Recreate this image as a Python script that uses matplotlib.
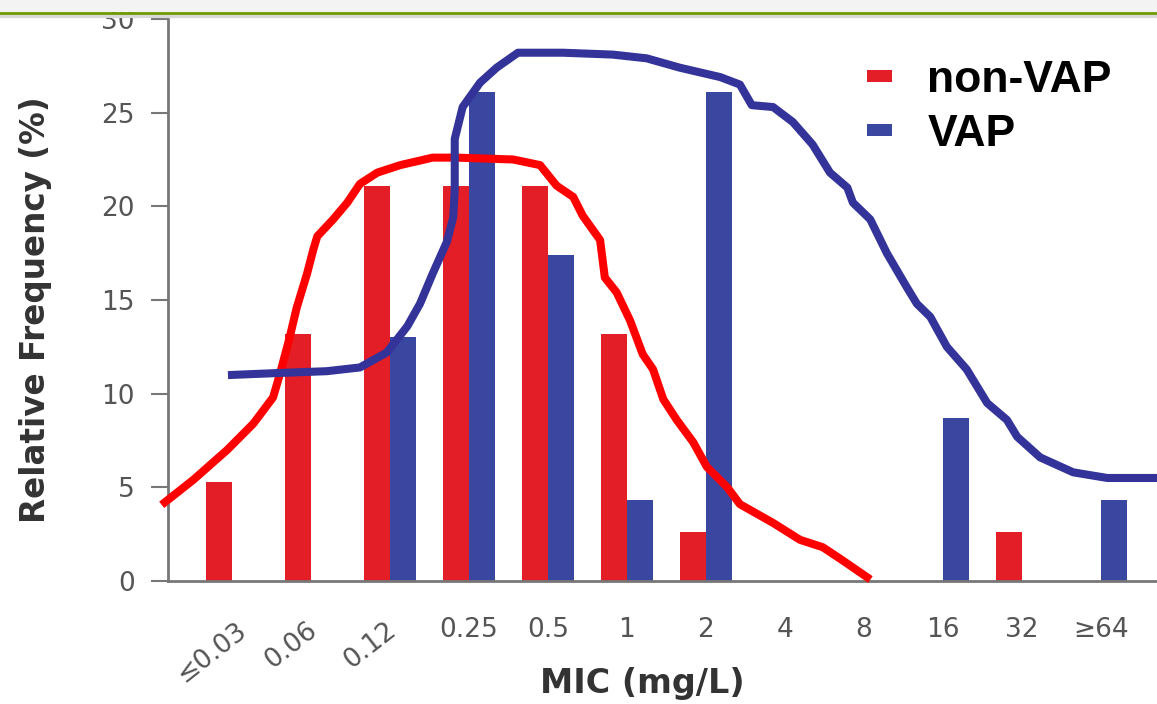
import numpy as np
import matplotlib
matplotlib.use("Agg")
import matplotlib.pyplot as plt
from matplotlib.patches import Patch, Rectangle
from matplotlib.lines import Line2D
from matplotlib.transforms import ScaledTranslation

# MIC categories and relative frequencies (%)
mic_labels = ["≤0.03", "0.06", "0.12", "0.25", "0.5", "1", "2", "4", "8", "16", "32", "≥64"]
non_vap = [5.3, 13.2, 21.1, 21.1, 21.1, 13.2, 2.6, 0, 0, 0, 2.6, 0]
vap = [0, 0, 13.0, 26.1, 17.4, 4.3, 26.1, 0, 0, 8.7, 0, 4.3]

# hand-drawn trend curves (x in category index units, y in %)
red_curve_x = [-0.85, -0.49, -0.06, 0.27, 0.52, 0.61, 0.73, 0.82, 0.95, 1.03, 1.08, 1.28,
               1.46, 1.62, 1.84, 2.13, 2.54, 2.85, 3.56, 3.90, 4.11, 4.32, 4.44, 4.66,
               4.72, 4.87, 5.04, 5.20, 5.33, 5.46, 5.63, 5.84, 6.01, 6.27, 6.43, 6.85,
               7.19, 7.48, 7.73, 8.04]
red_curve_y = [4.2, 5.4, 7.0, 8.4, 9.8, 11.1, 13.0, 14.6, 16.4, 17.7, 18.4, 19.3,
               20.2, 21.2, 21.8, 22.2, 22.6, 22.6, 22.5, 22.2, 21.1, 20.5, 19.5, 18.2,
               16.2, 15.4, 13.9, 12.1, 11.3, 9.7, 8.6, 7.4, 6.1, 5.0, 4.1, 3.1,
               2.2, 1.8, 1.1, 0.2]
blue_curve_x = [0.00, 0.57, 1.20, 1.62, 1.96, 2.22, 2.38, 2.54, 2.72, 2.80, 2.82, 2.82,
                2.92, 3.14, 3.35, 3.62, 4.19, 4.82, 5.25, 5.67, 6.18, 6.43, 6.58, 6.85,
                7.10, 7.35, 7.57, 7.79, 7.86, 8.08, 8.29, 8.54, 8.67, 8.84, 9.05, 9.30,
                9.43, 9.56, 9.81, 9.94, 10.23, 10.65, 11.08, 11.71]
blue_curve_y = [11.0, 11.1, 11.2, 11.4, 12.2, 13.6, 14.8, 16.4, 18.1, 19.4, 20.9, 23.6,
                25.3, 26.6, 27.4, 28.2, 28.2, 28.1, 27.9, 27.4, 26.9, 26.5, 25.4, 25.3,
                24.5, 23.3, 21.8, 21.0, 20.2, 19.3, 17.5, 15.7, 14.8, 14.1, 12.5, 11.3,
                10.4, 9.5, 8.6, 7.7, 6.6, 5.8, 5.5, 5.5]

red = '#e41e26'
blue = '#3a47a0'

fig = plt.figure(figsize=(11.57, 7.04), dpi=100)
ax = fig.add_axes([168 / 1157, 1 - 581 / 704, 1 - 168 / 1157, (581 - 19) / 704])

x = np.arange(len(mic_labels))
w = 0.33
ax.bar(x - w / 2, non_vap, w, color=red, zorder=2)
ax.bar(x + w / 2, vap, w, color=blue, zorder=2)

ax.plot(red_curve_x, red_curve_y, color='#ff0000', lw=5.8, zorder=4,
        solid_joinstyle='round', clip_on=False)
ax.plot(blue_curve_x, blue_curve_y, color='#333399', lw=5.8, zorder=4,
        solid_joinstyle='round', clip_on=False)

ax.set_xlim(-0.81, 11.71)
ax.set_ylim(0, 30)

grey = '#555555'
ax.set_yticks([0, 5, 10, 15, 20, 25, 30])
ax.set_xticks(x, labels=mic_labels)
ax.tick_params(axis='y', direction='out', length=12, width=1.5, color='#777777',
               labelsize=19, labelcolor=grey, pad=12)
ax.tick_params(axis='x', length=0, labelsize=19, labelcolor=grey, pad=26)

shift = ScaledTranslation(-20 / 100, 0, fig.dpi_scale_trans)
for lab in ax.get_xticklabels()[:3]:
    lab.set_rotation(38)
    lab.set_ha('center')
    lab.set_transform(lab.get_transform() + shift)

for side in ['top', 'right']:
    ax.spines[side].set_visible(False)
for side in ['left', 'bottom']:
    ax.spines[side].set_color('#777777')
    ax.spines[side].set_linewidth(2)

ax.set_ylabel('Relative Frequency (%)', fontsize=23.5, fontweight='bold', color='#333333', va='center')
ax.yaxis.set_label_coords((35 - 168) / 989, (581 - 310) / 562)
ax.set_xlabel('MIC (mg/L)', fontsize=24, fontweight='bold', color='#333333', va='center')
ax.xaxis.set_label_coords((642 - 168) / 989, (581 - 684) / 562)

handles = [Patch(facecolor=red, linewidth=0), Patch(facecolor=blue, linewidth=0)]
ax.legend(handles, ['non-VAP', 'VAP'], loc='upper left', frameon=False,
          prop={'family': 'Liberation Sans', 'weight': 'bold', 'size': 32},
          handlelength=0.56, handleheight=0.05, handletextpad=0.8, labelspacing=0.3,
          borderpad=0, borderaxespad=0,
          bbox_to_anchor=(867 / 1157, 1 - 60 / 704), bbox_transform=fig.transFigure)

# slide header band at the top
fig.add_artist(Rectangle((0, 1 - 11 / 704), 1, 11 / 704, transform=fig.transFigure,
                         color='#f3f3f3', zorder=10))
fig.add_artist(Line2D([0, 1], [1 - 16 / 704] * 2, transform=fig.transFigure,
                      color='#d8d8d8', lw=3, zorder=10))
fig.add_artist(Line2D([0, 1], [1 - 12.5 / 704] * 2, transform=fig.transFigure,
                      color='#6e9a00', lw=2, zorder=11))

fig.savefig('out.png', dpi=100)
